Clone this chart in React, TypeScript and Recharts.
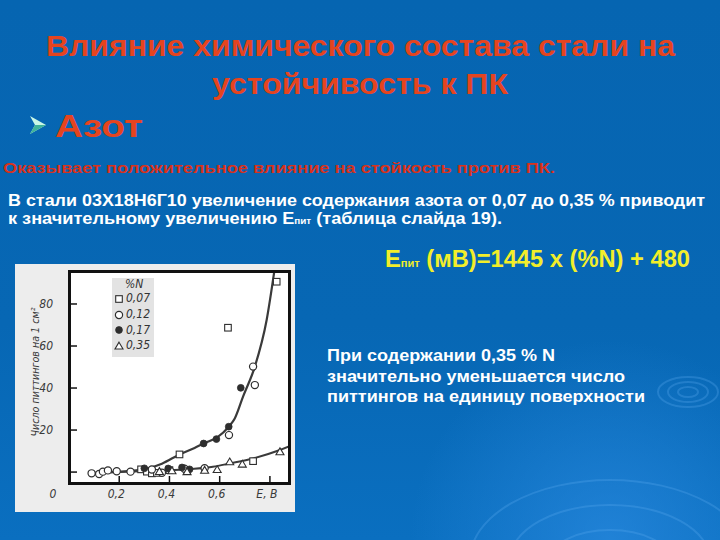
import React from 'react';
import { ComposedChart, XAxis, YAxis, Scatter, Line, Legend } from 'recharts';

// ---- data ----
const nLevels = ['0,07', '0,12', '0,17', '0,35'];

const sq07 = [
  { x: 0.287, y: 1.3 }, { x: 0.31, y: 0.2 }, { x: 0.33, y: -0.6 }, { x: 0.35, y: -0.4 },
  { x: 0.4, y: 0.9 }, { x: 0.44, y: 8.4 }, { x: 0.633, y: 68.7 }, { x: 0.733, y: 5.2 }, { x: 0.827, y: 90.6 },
];
const c12 = [
  { x: 0.09, y: -0.6 }, { x: 0.12, y: -0.9 }, { x: 0.135, y: 0.2 }, { x: 0.155, y: 0.8 },
  { x: 0.19, y: 0.4 }, { x: 0.245, y: 0.2 }, { x: 0.33, y: 1.2 }, { x: 0.37, y: -0.3 },
  { x: 0.46, y: 1.6 }, { x: 0.54, y: 1.8 }, { x: 0.637, y: 17.6 }, { x: 0.733, y: 50.2 }, { x: 0.74, y: 41.4 },
];
const f17 = [
  { x: 0.3, y: 1.8 }, { x: 0.395, y: 1.7 }, { x: 0.45, y: 2.2 }, { x: 0.48, y: 1.3 },
  { x: 0.536, y: 13.6 }, { x: 0.587, y: 15.7 }, { x: 0.636, y: 21.6 }, { x: 0.684, y: 40.1 },
];
const t35 = [
  { x: 0.36, y: 0.3 }, { x: 0.41, y: 0.6 }, { x: 0.47, y: 0.2 }, { x: 0.54, y: 0.9 },
  { x: 0.59, y: 1.2 }, { x: 0.64, y: 4.9 }, { x: 0.69, y: 3.8 }, { x: 0.84, y: 9.7 },
];
const fitHigh = [
  { x: 0.09, y: -0.5 }, { x: 0.2, y: 0.2 }, { x: 0.3, y: 1.4 }, { x: 0.37, y: 4 }, { x: 0.44, y: 8.4 },
  { x: 0.5, y: 11.5 }, { x: 0.54, y: 13.8 }, { x: 0.59, y: 16.5 }, { x: 0.636, y: 21.6 }, { x: 0.66, y: 25.5 },
  { x: 0.693, y: 35.9 }, { x: 0.74, y: 50.2 }, { x: 0.787, y: 72.4 }, { x: 0.818, y: 96 },
];
const fitLow = [
  { x: 0.09, y: -0.5 }, { x: 0.2, y: 0 }, { x: 0.3, y: 0.4 }, { x: 0.44, y: 1.1 }, { x: 0.573, y: 2.5 },
  { x: 0.64, y: 4.1 }, { x: 0.733, y: 6.5 }, { x: 0.84, y: 10.5 }, { x: 0.876, y: 12.2 },
];

const xTicks = [0, 0.2, 0.4, 0.6, 0.8];
const xTickLabels = ['0', '0,2', '0,4', '0,6', 'E, В'];
const yTicks = [0, 20, 40, 60, 80];
const yTickLabels = ['', '20', '40', '60', '80'];
const xDomain = [0, 0.876];
const yDomain = [-5.2, 95.7];

const chartFont = "'DejaVu Sans Condensed','Liberation Sans Narrow','Liberation Sans',sans-serif";
const ink = '#2e2e2e';

const marker = (i: number, cx: number, cy: number) => {
  if (i === 0) return <rect x={cx - 3.3} y={cy - 3.3} width={6.6} height={6.6} fill="#fff" stroke={ink} strokeWidth={1.1} />;
  if (i === 1) return <circle cx={cx} cy={cy} r={3.6} fill="#fff" stroke={ink} strokeWidth={1.2} />;
  if (i === 2) return <circle cx={cx} cy={cy} r={3.4} fill={ink} stroke={ink} strokeWidth={0.8} />;
  return <polygon points={`${cx},${cy - 3.8} ${cx + 4},${cy + 3} ${cx - 4},${cy + 3}`} fill="#fff" stroke={ink} strokeWidth={1.1} />;
};

const shapeFor = (i: number) => (p: any) => <g>{marker(i, p.cx, p.cy)}</g>;

const XTick = (props: any) => {
  const { x, y, payload } = props;
  const i = xTicks.indexOf(payload.value);
  const isOrigin = payload.value === 0;
  return (
    <g>
      {!isOrigin && <line x1={x} x2={x} y1={y} y2={y - 7} stroke="#111" strokeWidth={1.5} />}
      <text x={isOrigin ? x - 16 : x - 3} y={y + 15} textAnchor="middle" fontFamily={chartFont} fontStyle="italic" fontSize={12} fill="#3a3a3a" stroke="none">
        {xTickLabels[i]}
      </text>
    </g>
  );
};

const YTick = (props: any) => {
  const { x, y, payload } = props;
  const i = yTicks.indexOf(payload.value);
  const ax = x + 16;
  return (
    <g>
      <line x1={ax} x2={ax + 8} y1={y} y2={y} stroke="#111" strokeWidth={1.5} />
      <text x={x} y={y + 4} textAnchor="end" fontFamily={chartFont} fontStyle="italic" fontSize={12} fill="#3a3a3a" stroke="none">
        {yTickLabels[i]}
      </text>
    </g>
  );
};

const LegendBox = () => (
  <div style={{ background: '#e3e3e3', width: 42, paddingBottom: 3, fontFamily: chartFont, fontStyle: 'italic', fontSize: 12, color: '#333' }}>
    <div style={{ paddingLeft: 13, height: 13, lineHeight: '13px' }}>%N</div>
    {nLevels.map((lv, i) => (
      <div key={lv} style={{ display: 'flex', alignItems: 'center', height: 15.7 }}>
        <svg width={14} height={12} style={{ display: 'block' }}>{marker(i, 7, 6)}</svg>
        <span style={{ lineHeight: '15px' }}>{lv}</span>
      </div>
    ))}
  </div>
);

const YLabel = (props: any) => {
  const vb = props.viewBox || { x: 0, y: 7, width: 54, height: 212 };
  const cx = vb.x + 24;
  const cy = vb.y + vb.height / 2 - 5;
  return (
    <text x={cx} y={cy} transform={`rotate(-90 ${cx} ${cy})`} textAnchor="middle" fontFamily={chartFont} fontStyle="italic" fontSize={11} textLength={129} lengthAdjust="spacingAndGlyphs" fill="#3a3a3a" stroke="none">
      Число питтингов на 1 см²
    </text>
  );
};

const font = "'Liberation Sans', Arial, sans-serif";

export default function App() {
  return (
    <div style={{ position: 'absolute', left: 0, top: 0, width: 720, height: 540, overflow: 'hidden' }}>
      <svg width={720} height={540} style={{ position: 'absolute', left: 0, top: 0 }}>
        <defs>
          <linearGradient id="bg" x1="0" y1="0" x2="0" y2="1">
            <stop offset="0" stopColor="#0665b1" />
            <stop offset="0.6" stopColor="#0767b4" />
            <stop offset="1" stopColor="#0a6fc0" />
          </linearGradient>
          <radialGradient id="glow" cx="610" cy="540" r="200" gradientUnits="userSpaceOnUse">
            <stop offset="0" stopColor="#2a8ae0" stopOpacity="0.7" />
            <stop offset="1" stopColor="#2a8ae0" stopOpacity="0" />
          </radialGradient>
        </defs>
        <rect x={0} y={0} width={720} height={540} fill="url(#bg)" />
        <rect x={0} y={0} width={720} height={540} fill="url(#glow)" />
        <g fill="none" stroke="#5aa8ee" strokeOpacity={0.3} strokeWidth={2}>
          <ellipse cx={688} cy={392} rx={10} ry={5} />
          <ellipse cx={688} cy={392} rx={20} ry={10} />
          <ellipse cx={688} cy={392} rx={30} ry={15} />
          <ellipse cx={610} cy={560} rx={60} ry={30} />
          <ellipse cx={610} cy={560} rx={100} ry={55} />
          <ellipse cx={610} cy={560} rx={140} ry={80} />
        </g>

        <g fontFamily={font} fontWeight="bold">
          <text x={46} y={56} fontSize={30} textLength={629} lengthAdjust="spacingAndGlyphs" fill="#e5441f">Влияние химического состава стали на</text>
          <text x={212} y={94} fontSize={30} textLength={296} lengthAdjust="spacingAndGlyphs" fill="#e5441f">устойчивость к ПК</text>
          <polygon points="30,116 46,125 30,134 35,125" fill="#c9f7e6" />
          <polygon points="30,134 46,125 35,125" fill="#3fb29a" />
          <text x={55} y={137} fontSize={32} textLength={88} lengthAdjust="spacingAndGlyphs" fill="#e5441f">Азот</text>
          <text x={3} y={173} fontSize={14.5} textLength={552} lengthAdjust="spacingAndGlyphs" fill="#d8321c">Оказывает положительное влияние на стойкость против ПК.</text>
          <text x={8} y={206} fontSize={16.5} textLength={697} lengthAdjust="spacingAndGlyphs" fill="#ffffff">В стали 03Х18Н6Г10 увеличение содержания азота от 0,07 до 0,35 % приводит</text>
          <text x={8} y={224} fontSize={16.5} textLength={494} lengthAdjust="spacingAndGlyphs" fill="#ffffff">к значительному увеличению E<tspan fontSize={9}>пит</tspan> (таблица слайда 19).</text>
          <text x={385} y={267} fontSize={23.5} textLength={305} lengthAdjust="spacingAndGlyphs" fill="#f2ee2a">E<tspan fontSize={11}>пит</tspan> (мВ)=1445 х (%N) + 480</text>
          <text x={327} y={361} fontSize={17} textLength={228} lengthAdjust="spacingAndGlyphs" fill="#ffffff">При содержании 0,35 % N</text>
          <text x={327} y={382} fontSize={17} textLength={298} lengthAdjust="spacingAndGlyphs" fill="#ffffff">значительно уменьшается число</text>
          <text x={327} y={402} fontSize={17} textLength={318} lengthAdjust="spacingAndGlyphs" fill="#ffffff">питтингов на единицу поверхности</text>
        </g>
      </svg>

      <div style={{ position: 'absolute', left: 15, top: 264, width: 280, height: 248, background: '#ededed' }}>
        <div style={{ position: 'absolute', left: 54, top: 7, width: 220, height: 212, background: '#ffffff' }} />
        <div style={{ position: 'absolute', left: 0, top: 0 }}>
          <ComposedChart width={280} height={248} margin={{ top: 7, right: 6, left: 0, bottom: 0 }}>
            <XAxis
              type="number"
              dataKey="x"
              domain={xDomain}
              ticks={xTicks}
              allowDataOverflow
              height={29}
              axisLine={false}
              tickLine={false}
              tickSize={0}
              tickMargin={0}
              tick={<XTick />}
              interval={0}
            />
            <YAxis
              type="number"
              dataKey="y"
              domain={yDomain}
              ticks={yTicks}
              allowDataOverflow
              width={54}
              axisLine={false}
              tickLine={false}
              tickSize={0}
              tickMargin={16}
              tick={<YTick />}
              interval={0}
              label={{ content: (p: any) => <YLabel {...p} /> }}
            />
            <Line data={fitHigh} dataKey="y" type="monotone" stroke="#3a3a3a" strokeWidth={2.2} dot={false} isAnimationActive={false} legendType="none" />
            <Line data={fitLow} dataKey="y" type="monotone" stroke="#3a3a3a" strokeWidth={2} dot={false} isAnimationActive={false} legendType="none" />
            <Scatter data={sq07} dataKey="y" shape={shapeFor(0)} isAnimationActive={false} />
            <Scatter data={c12} dataKey="y" shape={shapeFor(1)} isAnimationActive={false} />
            <Scatter data={f17} dataKey="y" shape={shapeFor(2)} isAnimationActive={false} />
            <Scatter data={t35} dataKey="y" shape={shapeFor(3)} isAnimationActive={false} />
            <Legend
              layout="vertical"
              align="center"
              verticalAlign="middle"
              content={() => <LegendBox />}
              wrapperStyle={{ left: 97, top: 14, width: 42, height: 'auto' }}
            />
          </ComposedChart>
        </div>
        <div style={{ position: 'absolute', left: 52.5, top: 5.5, width: 223, height: 215, border: '3px solid #111', boxSizing: 'border-box', pointerEvents: 'none' }} />
      </div>
    </div>
  );
}
